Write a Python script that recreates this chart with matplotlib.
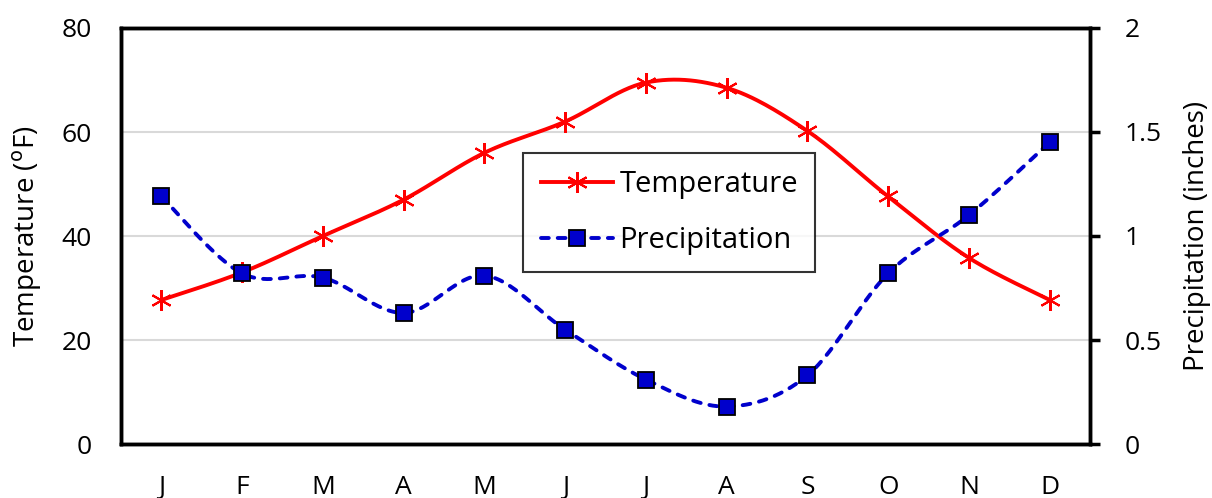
import numpy as np
import matplotlib
matplotlib.use("Agg")
import matplotlib.pyplot as plt
from matplotlib.lines import Line2D

plt.rcParams['font.family'] = ['Open Sans', 'DejaVu Sans']

months = ["J", "F", "M", "A", "M", "J", "J", "A", "S", "O", "N", "D"]
temperature = [27.7, 33, 40, 47, 56, 62, 69.5, 68.5, 60.2, 47.6, 35.8, 27.7]
precipitation = [1.19, 0.82, 0.80, 0.63, 0.81, 0.55, 0.31, 0.18, 0.33, 0.82, 1.10, 1.45]


def smooth(x, y, n=30):
    # Catmull-Rom style Bezier smoothing (as used by spreadsheet "smoothed line")
    x = np.asarray(x, float)
    y = np.asarray(y, float)
    px = np.concatenate([[x[0]], x, [x[-1]]])
    py = np.concatenate([[y[0]], y, [y[-1]]])
    xs, ys = [], []
    t = np.linspace(0, 1, n)
    for i in range(len(x) - 1):
        p0 = np.array([x[i], y[i]])
        p3 = np.array([x[i + 1], y[i + 1]])
        p1 = p0 + (np.array([px[i + 2], py[i + 2]]) - np.array([px[i], py[i]])) / 6
        p2 = p3 - (np.array([px[i + 3], py[i + 3]]) - np.array([px[i + 1], py[i + 1]])) / 6
        b = ((1 - t) ** 3)[:, None] * p0 + (3 * (1 - t) ** 2 * t)[:, None] * p1 \
            + (3 * (1 - t) * t ** 2)[:, None] * p2 + (t ** 3)[:, None] * p3
        xs.extend(b[:, 0])
        ys.extend(b[:, 1])
    return np.array(xs), np.array(ys)


fig = plt.figure(figsize=(12.12, 4.98), dpi=100)
ax = fig.add_axes([121 / 1212, 1 - 444 / 498, (1090 - 121) / 1212, (444 - 28) / 498])
ax2 = ax.twinx()

xpos = np.arange(len(months))
red = "#FF0000"
blue = "#0000CC"
FS = 19
LFS = 21
LW = 2.8

ax.set_xlim(-0.5, len(months) - 0.5)
ax.set_ylim(0, 80)
ax2.set_ylim(0, 2)

ax.set_yticks([0, 20, 40, 60, 80])
ax2.set_yticks([0, 0.5, 1, 1.5, 2])
ax2.set_yticklabels(["0", "0.5", "1", "1.5", "2"])
ax.set_xticks(xpos)
ax.set_xticklabels(months)

for v in [20, 40, 60]:
    ax.axhline(v, color="#D9D9D9", lw=1.5, zorder=0)

dash = (0, (2.0, 2.3))

sx, sy = smooth(xpos, temperature)
ax.plot(sx, sy, color=red, lw=LW, zorder=3)
ax.plot(xpos, temperature, ls="none", marker=(6, 2, 0), ms=15, mec=red, mew=1.5, zorder=4)

px_, py_ = smooth(xpos, precipitation)
ax2.plot(px_, py_, color=blue, lw=LW, ls=dash, dash_capstyle="round", zorder=3)
ax2.plot(xpos, precipitation, ls="none", marker="s", ms=11, mfc=blue, mec="black", mew=1.3, zorder=4)

for a in (ax, ax2):
    for s in a.spines.values():
        s.set_linewidth(2.5)
        s.set_color("black")

ax.tick_params(axis="y", length=0, labelsize=FS, pad=21)
ax.tick_params(axis="x", length=0, labelsize=FS, pad=22)
ax2.tick_params(axis="y", length=7, width=2.5, direction="out", labelsize=FS, pad=18)

ax.set_ylabel("Temperature ($^{\\mathrm{o}}$F)", fontsize=20, labelpad=13)
ax2.set_ylabel("Precipitation (inches)", fontsize=20, labelpad=15)

handles = [
    Line2D([], [], color=red, lw=LW, marker=(6, 2, 0), ms=15, mec=red, mew=1.5),
    Line2D([], [], color=blue, lw=LW, ls=dash, dash_capstyle="round",
           marker="s", ms=11, mfc=blue, mec="black", mew=1.3),
]
leg = ax2.legend(handles, ["Temperature", "Precipitation"], loc="upper left",
                 bbox_to_anchor=((523 - 121) / 969, (444 - 153) / 416),
                 fontsize=LFS, frameon=True, fancybox=False, edgecolor="black",
                 handlelength=2.5, handletextpad=0.2, borderpad=0.6, labelspacing=0.9,
                 borderaxespad=0)
leg.get_frame().set_linewidth(1.5)
leg.set_zorder(10)

fig.savefig("out.png", dpi=100)
